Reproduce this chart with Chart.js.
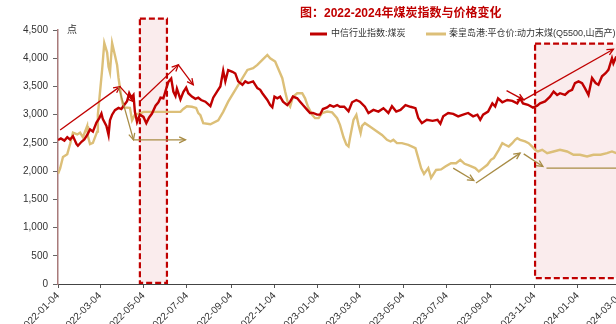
<!DOCTYPE html>
<html>
<head>
<meta charset="utf-8">
<script src="https://cdn.jsdelivr.net/npm/chart.js@4.4.1/dist/chart.umd.min.js"></script>
<style>
html, body { margin: 0; padding: 0; overflow: hidden; background: #fff; }
#wrap { position: relative; width: 652px; height: 324px; }
</style>
</head>
<body>
<div id="wrap"><canvas id="chart"></canvas></div>
<script>
// days are counted from 2022-01-04
const startDate = Date.UTC(2022, 0, 4);
const tickLabels = ['2022-01-04', '2022-03-04', '2022-05-04', '2022-07-04', '2022-09-04', '2022-11-04',
    '2023-01-04', '2023-03-04', '2023-05-04', '2023-07-04', '2023-09-04', '2023-11-04', '2024-01-04', '2024-03-04'];

// 中信行业指数:煤炭
const indexDays = [0, 4, 9, 13, 17, 21, 26, 28, 33, 37, 41, 45, 49, 54, 58, 61, 63, 68, 71, 73,
    76, 80, 85, 89, 93, 97, 100, 103, 106, 108, 111, 115, 120, 124, 128, 132, 137, 141, 144, 148,
    152, 155, 159, 162, 165, 167, 172, 176, 180, 183, 188, 193, 197, 201, 207, 214, 218, 224, 228, 232,
    235, 239, 245, 249, 253, 259, 263, 267, 274, 280, 284, 287, 294, 298, 301, 304, 308, 312, 316, 322,
    326, 330, 336, 340, 344, 350, 354, 358, 364, 368, 372, 378, 382, 387, 392, 396, 402, 408, 413, 419,
    424, 431, 436, 443, 450, 457, 464, 469, 475, 481, 488, 495, 502, 506, 511, 518, 526, 533, 537, 541,
    548, 555, 562, 569, 576, 583, 589, 593, 597, 604, 610, 614, 618, 624, 631, 638, 645, 649, 653, 660,
    667, 673, 677, 684, 691, 696, 701, 705, 712, 717, 722, 726, 731, 736, 740, 745, 750, 755, 759, 764,
    769, 773, 778, 780, 784];
const indexValues = [2550, 2580, 2540, 2600, 2560, 2620, 2480, 2450, 2520, 2560, 2640, 2740, 2700, 2860, 2940, 3020, 2920, 2800, 2640, 2900,
    3000, 3080, 3120, 3100, 3170, 3240, 3380, 3300, 3350, 3050, 2870, 3000, 2960, 2850, 2950, 3020, 3160, 3220, 3300, 3290,
    3460, 3580, 3640, 3410, 3330, 3460, 3270, 3400, 3480, 3380, 3320, 3280, 3300, 3260, 3230, 3150, 3300, 3420, 3500, 3780,
    3590, 3790, 3760, 3730, 3590, 3530, 3590, 3560, 3590, 3470, 3440, 3380, 3260, 3170, 3130, 3320, 3290, 3320, 3230, 3170,
    3230, 3320, 3290, 3230, 3170, 3085, 3030, 3030, 3000, 3000, 3100, 3130, 3170, 3140, 3170, 3140, 3140, 3060, 3220, 3260,
    3230, 3140, 3030, 3085, 3055, 3115, 3030, 3150, 3055, 3085, 3170, 3140, 3115, 2940, 2850, 2910, 2890, 2910, 2840, 2970,
    3030, 3015, 2970, 3000, 3030, 2970, 3000, 2910, 3000, 3055, 3200, 3145, 3290, 3220, 3260, 3245, 3200, 3290, 3200, 3175,
    3125, 3160, 3200, 3235, 3320, 3410, 3350, 3380, 3350, 3410, 3440, 3560, 3590, 3560, 3470, 3350, 3650, 3560, 3530, 3680,
    3735, 3795, 4000, 3910, 4030];

// 秦皇岛港:平仓价:动力末煤(Q5500,山西产)
const coalDays = [0, 3, 7, 13, 17, 21, 27, 31, 35, 41, 42, 45, 49, 55, 56, 59, 62, 65, 69, 71,
    73, 76, 80, 83, 85, 89, 92, 101, 104, 108, 115, 120, 144, 172, 176, 181, 188, 194, 197, 200,
    204, 214, 225, 232, 239, 249, 259, 266, 274, 280, 287, 294, 298, 305, 309, 315, 319, 323, 326, 330,
    336, 343, 347, 351, 357, 361, 366, 371, 378, 385, 392, 396, 401, 405, 408, 410, 415, 419, 422, 425,
    427, 431, 438, 445, 455, 462, 467, 471, 476, 483, 492, 502, 506, 510, 514, 520, 524, 531, 538, 544,
    552, 559, 565, 571, 577, 586, 591, 597, 603, 608, 612, 619, 624, 628, 633, 638, 642, 645, 649, 656,
    661, 666, 670, 674, 680, 687, 696, 705, 715, 724, 733, 743, 752, 762, 771, 778, 784];
const coalValues = [1950, 2050, 2250, 2300, 2480, 2680, 2650, 2680, 2600, 2800, 2620, 2480, 2500, 2700, 3000, 3400, 3800, 4270, 4100, 3850,
    3750, 4270, 4050, 3880, 3650, 3300, 3130, 3120, 2900, 3000, 3020, 3050, 3050, 3050, 3100, 3150, 3140, 3120, 3030, 2990,
    2850, 2830, 2900, 3050, 3230, 3440, 3646, 3793, 3823, 3882, 3970, 4058, 4000, 3941, 3823, 3646, 3410, 3200, 3143, 3320,
    3380, 3380, 3290, 3143, 2997, 2938, 2938, 3030, 3055, 3040, 2938, 2820, 2600, 2470, 2436, 2583, 2908, 2997, 2820, 2672,
    2800, 2850, 2790, 2730, 2640, 2554, 2525, 2554, 2495, 2495, 2466, 2407, 2230, 2050, 1950, 2053, 1880, 2020, 2030, 2082,
    2141, 2140, 2200, 2130, 2100, 2053, 1993, 2053, 2112, 2200, 2230, 2377, 2495, 2466, 2436, 2495, 2554, 2583, 2554, 2525,
    2495, 2436, 2377, 2348, 2377, 2318, 2348, 2377, 2348, 2290, 2290, 2260, 2290, 2290, 2318, 2348, 2318];

// annotations, in data units: [day0, value0, day1, value1]
const highlightBoxes = [[115, 20, 153, 4700], [670, 105, 845, 4260]];
const redArrows = [[3, 2730, 87, 3497], [87, 3497, 106, 3232], [115, 3232, 169, 3882], [169, 3882, 190, 3527],
    [630, 3427, 654, 3262], [654, 3262, 780, 4160]];
const goldArrows = [[85, 3497, 106, 2554], [106, 2554, 179, 2554], [555, 2053, 584, 1834], [587, 1788, 649, 2319],
    [654, 2306, 681, 2082]];
const goldLevels = [[686, 2053, 845, 2053]];

const tickDays = tickLabels.map(s => {
    const p = s.split('-').map(Number);
    return Math.round((Date.UTC(p[0], p[1] - 1, p[2]) - startDate) / 86400000);
});

const RED = '#c00000';
const GOLD = '#dcbf78';
const DARK_GOLD = '#a88c45';
const FONT = '"Liberation Sans", Arial, "Noto Sans CJK SC", sans-serif';

function drawArrow(ctx, x0, y0, x1, y1, head) {
    ctx.beginPath();
    ctx.moveTo(x0, y0);
    ctx.lineTo(x1, y1);
    ctx.stroke();
    if (!head) return;
    const a = Math.atan2(y1 - y0, x1 - x0);
    const len = 7;
    ctx.beginPath();
    ctx.moveTo(x1 - len * Math.cos(a - 0.45), y1 - len * Math.sin(a - 0.45));
    ctx.lineTo(x1, y1);
    ctx.lineTo(x1 - len * Math.cos(a + 0.45), y1 - len * Math.sin(a + 0.45));
    ctx.stroke();
}

const boxesPlugin = {
    id: 'boxes',
    beforeDatasetsDraw(chart) {
        const { ctx, scales: { x, y } } = chart;
        ctx.save();
        highlightBoxes.forEach(b => {
            const l = x.getPixelForValue(b[0]), r = x.getPixelForValue(b[2]);
            const t = y.getPixelForValue(b[3]), btm = y.getPixelForValue(b[1]);
            ctx.fillStyle = 'rgba(200, 40, 60, 0.09)';
            ctx.fillRect(l, t, r - l, btm - t);
            ctx.strokeStyle = RED;
            ctx.lineWidth = 2.2;
            ctx.setLineDash([6, 3]);
            ctx.strokeRect(l, t, r - l, btm - t);
        });
        ctx.restore();
    },
    afterDatasetsDraw(chart) {
        const { ctx, scales: { x, y } } = chart;
        ctx.save();
        ctx.lineWidth = 1.3;
        ctx.strokeStyle = RED;
        redArrows.forEach(a => drawArrow(ctx, x.getPixelForValue(a[0]), y.getPixelForValue(a[1]),
            x.getPixelForValue(a[2]), y.getPixelForValue(a[3]), true));
        ctx.strokeStyle = DARK_GOLD;
        goldArrows.forEach(a => drawArrow(ctx, x.getPixelForValue(a[0]), y.getPixelForValue(a[1]),
            x.getPixelForValue(a[2]), y.getPixelForValue(a[3]), true));
        goldLevels.forEach(a => drawArrow(ctx, x.getPixelForValue(a[0]), y.getPixelForValue(a[1]),
            x.getPixelForValue(a[2]), y.getPixelForValue(a[3]), false));
        ctx.restore();
    }
};

// title, legend and unit label
const headerPlugin = {
    id: 'header',
    afterDraw(chart) {
        const ctx = chart.ctx;
        ctx.save();
        ctx.textBaseline = 'middle';
        ctx.textAlign = 'left';
        ctx.fillStyle = RED;
        ctx.font = 'bold 12px ' + FONT;
        ctx.fillText('图：2022-2024年煤炭指数与价格变化', 300, 14);

        ctx.font = '9px ' + FONT;
        ctx.fillStyle = '#333';
        ctx.lineWidth = 3;
        ctx.strokeStyle = RED;
        ctx.beginPath(); ctx.moveTo(310, 34); ctx.lineTo(327, 34); ctx.stroke();
        ctx.fillText('中信行业指数:煤炭', 331, 34);
        ctx.strokeStyle = GOLD;
        ctx.beginPath(); ctx.moveTo(426, 34); ctx.lineTo(446, 34); ctx.stroke();
        ctx.fillText('秦皇岛港:平仓价:动力末煤(Q5500,山西产)', 449, 34);

        ctx.font = '10px ' + FONT;
        ctx.fillText('点', 67, 30);
        ctx.restore();
    }
};

new Chart(document.getElementById('chart'), {
    type: 'line',
    data: {
        datasets: [{
            label: '中信行业指数:煤炭',
            data: indexDays.map((d, i) => ({ x: d, y: indexValues[i] })),
            borderColor: RED,
            borderWidth: 2.4,
            pointRadius: 0,
            tension: 0
        }, {
            label: '秦皇岛港:平仓价:动力末煤(Q5500,山西产)',
            data: coalDays.map((d, i) => ({ x: d, y: coalValues[i] })),
            borderColor: GOLD,
            borderWidth: 2.4,
            pointRadius: 0,
            tension: 0
        }]
    },
    options: {
        responsive: true,
        maintainAspectRatio: false,
        animation: false,
        layout: { padding: { top: 30, right: 3, left: 0, bottom: 0 } },
        plugins: { legend: { display: false }, title: { display: false }, tooltip: { enabled: false } },
        scales: {
            x: {
                type: 'linear',
                min: 0,
                max: 830,
                afterFit: s => { s.height = 40; },
                afterBuildTicks: s => { s.ticks = tickDays.map(v => ({ value: v })); },
                grid: { drawOnChartArea: false, tickLength: 4, color: '#555' },
                border: { color: '#444', width: 1 },
                ticks: {
                    autoSkip: false,
                    minRotation: 45,
                    maxRotation: 45,
                    padding: 2,
                    color: '#333',
                    font: { family: FONT, size: 10 },
                    callback: (v, i) => tickLabels[i]
                }
            },
            y: {
                min: 0,
                max: 4500,
                afterFit: s => { s.width = 58; },
                grid: { drawOnChartArea: false, tickLength: 5, color: '#666' },
                border: { color: '#a87a7a', width: 1.5 },
                ticks: {
                    stepSize: 500,
                    padding: 5,
                    color: '#333',
                    font: { family: FONT, size: 10 },
                    callback: v => v.toLocaleString('en-US')
                }
            }
        }
    },
    plugins: [boxesPlugin, headerPlugin]
});
</script>
</body>
</html>
